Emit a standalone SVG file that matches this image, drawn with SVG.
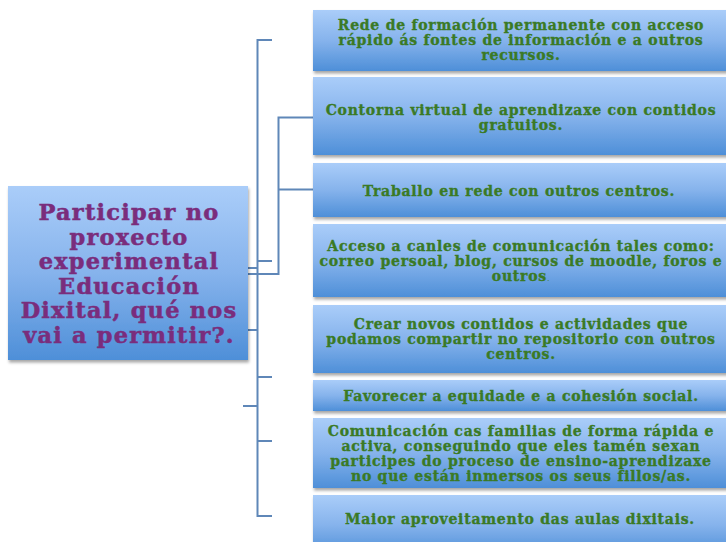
<svg xmlns="http://www.w3.org/2000/svg" width="726" height="542" viewBox="0 0 726 542">
<defs>
<linearGradient id="g" x1="0" y1="0" x2="0" y2="1">
<stop offset="0" stop-color="#aacdf9"/>
<stop offset="0.5" stop-color="#86b3ec"/>
<stop offset="1" stop-color="#4e8fd8"/>
</linearGradient>
<filter id="sh" x="-10%" y="-10%" width="130%" height="140%">
<feDropShadow dx="1" dy="2.5" stdDeviation="1.5" flood-color="#000" flood-opacity="0.35"/>
</filter>
</defs>
<style>
.box{fill:url(#g);filter:url(#sh)}
.t{font-family:"DejaVu Serif","Liberation Serif",serif;font-weight:bold;font-size:14px;letter-spacing:0.75px;fill:#3a7a25;stroke:#3a7a25;stroke-width:0.35px;text-anchor:middle}
.m{font-family:"DejaVu Serif","Liberation Serif",serif;font-weight:bold;font-size:22.5px;letter-spacing:1.2px;fill:#7a2d7c;stroke:#7a2d7c;stroke-width:0.5px;text-anchor:middle}
.c{fill:none;stroke:#5f87b8;stroke-width:2}
</style>
<rect width="726" height="542" fill="#ffffff"/>
<g id="connectors">
<path class="c" d="M272,40 H257.5 V516 H272"/>
<path class="c" d="M257.5,261 H272 M257.5,377 H272 M257.5,441 H272"/>
<path class="c" d="M248,268 H257.5 M248,330 H257.5 M243,406 H257.5"/>
<path class="c" d="M248,274 H278.5 V117.5 H313 M278.5,189.5 H313"/>
</g>
<g id="main">
<rect class="box" x="8" y="186" width="240" height="174"/>
<text class="m" x="129" y="220">Participar no</text>
<text class="m" x="129" y="244.5">proxecto</text>
<text class="m" x="129" y="269">experimental</text>
<text class="m" x="129" y="293.5">Educación</text>
<text class="m" x="129" y="318">Dixital, qué nos</text>
<text class="m" x="129" y="342.5">vai a permitir?.</text>
</g>
<g id="n1">
<rect class="box" x="313" y="10" width="420" height="61"/>
<text class="t" x="521" y="29.5">Rede de formación permanente con acceso</text>
<text class="t" x="521" y="44.5">rápido ás fontes de información e a outros</text>
<text class="t" x="521" y="59.5">recursos.</text>
</g>
<g id="n2">
<rect class="box" x="313" y="77" width="420" height="78"/>
<text class="t" x="521" y="115">Contorna virtual de aprendizaxe con contidos</text>
<text class="t" x="521" y="130">gratuitos.</text>
</g>
<g id="n3">
<rect class="box" x="313" y="163" width="420" height="54"/>
<text class="t" x="519" y="195.5">Traballo en rede con outros centros.</text>
</g>
<g id="n4">
<rect class="box" x="313" y="224" width="420" height="73"/>
<text class="t" x="521" y="250.5">Acceso a canles de comunicación tales como:</text>
<text class="t" x="521" y="265.5">correo persoal, blog, cursos de moodle, foros e</text>
<text class="t" x="521" y="280.5">outros<tspan font-size="8" font-weight="normal" stroke-width="0">.</tspan></text>
</g>
<g id="n5">
<rect class="box" x="313" y="305" width="420" height="68"/>
<text class="t" x="521" y="328.5">Crear novos contidos e actividades que</text>
<text class="t" x="521" y="343.5">podamos compartir no repositorio con outros</text>
<text class="t" x="521" y="358.5">centros.</text>
</g>
<g id="n6">
<rect class="box" x="313" y="380" width="420" height="31"/>
<text class="t" x="521" y="401">Favorecer a equidade e a cohesión social.</text>
</g>
<g id="n7">
<rect class="box" x="313" y="418" width="420" height="70"/>
<text class="t" x="521" y="436">Comunicación cas familias de forma rápida e</text>
<text class="t" x="521" y="451">activa, conseguindo que eles tamén sexan</text>
<text class="t" x="521" y="466">participes do proceso de ensino-aprendizaxe</text>
<text class="t" x="521" y="481">no que están inmersos os seus fillos/as.</text>
</g>
<g id="n8">
<rect class="box" x="313" y="495" width="420" height="60"/>
<text class="t" x="520" y="523.5">Maior aproveitamento das aulas dixitais.</text>
</g>
</svg>
